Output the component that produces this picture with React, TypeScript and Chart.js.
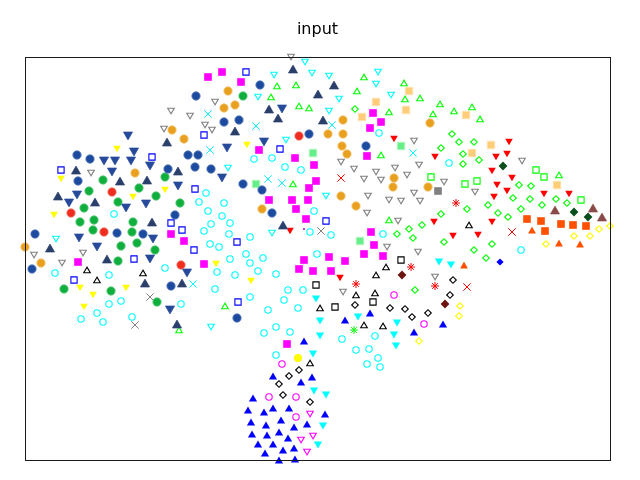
import React, { useEffect, useRef } from "react";
import { Chart, registerables } from "chart.js";

Chart.register(...registerables);

type P = [number, number];

const titleText = "input";

const navyCircles: P[] = [[196,96],[77,155],[90,159],[188,155],[198,155],[195,167],[211,169],[168,169],[78,181],[175,215],[35,234],[117,233],[143,234],[32,269],[171,286],[260,85],[224,122],[239,120],[309,134],[366,146],[243,184],[262,190],[272,213],[237,318]];
const darkUp: P[] = [[167,142],[76,170],[178,171],[120,181],[147,180],[58,196],[95,202],[152,222],[50,248],[107,259],[145,283],[182,283],[177,324],[293,69],[334,85],[318,94],[269,109],[278,118],[323,120],[235,131],[283,225]];
const navyDown: P[] = [[128,136],[134,152],[104,161],[115,161],[131,161],[150,166],[112,172],[178,186],[77,195],[69,203],[126,208],[146,204],[79,238],[97,247],[153,239],[150,259],[187,273],[170,310],[282,109],[264,142],[227,148],[222,178]];
const orangeCircles: P[] = [[172,130],[184,139],[135,173],[25,247],[41,263],[228,91],[235,105],[224,108],[343,120],[328,134],[343,134],[342,146],[347,154],[262,209],[341,196],[356,206],[430,123],[394,178],[393,187],[428,187]];
const greenCircles: P[] = [[165,177],[103,180],[139,188],[89,191],[156,196],[118,202],[180,203],[84,208],[80,222],[94,220],[133,222],[93,230],[132,232],[137,243],[121,246],[155,250],[118,261],[64,289],[111,291],[157,302],[243,96]];
const redCircles: P[] = [[112,192],[71,213],[104,232],[181,265],[299,136]];
const magentaSquares: P[] = [[208,77],[222,72],[241,82],[171,234],[184,241],[78,262],[204,264],[259,150],[295,158],[314,165],[316,181],[309,188],[373,113],[381,122],[370,128],[367,156],[269,200],[292,200],[308,200],[296,209],[306,219],[371,232],[374,245],[364,254],[383,256],[304,260],[329,257],[345,261],[299,269],[313,271],[331,271],[287,344]];
const blueOpenSquares: P[] = [[204,135],[152,157],[61,170],[195,189],[171,223],[182,230],[194,250],[134,259],[74,280],[246,72],[280,149],[237,242],[238,302],[326,221]];
const cyanCircles: P[] = [[206,193],[199,202],[208,211],[114,214],[222,216],[211,224],[204,231],[210,244],[219,247],[165,268],[55,273],[109,275],[217,272],[215,289],[121,301],[109,304],[181,304],[97,313],[81,319],[103,322],[132,317],[254,159],[272,158],[285,167],[301,170],[379,133],[224,203],[230,223],[229,234],[250,237],[246,254],[230,259],[250,263],[263,258],[258,271],[235,275],[276,274],[288,290],[303,290],[284,300],[250,297],[268,310],[298,308],[276,327],[290,332],[264,333],[314,211],[310,232],[331,235],[317,254],[383,234],[342,339],[375,336],[356,350],[369,349],[378,358],[367,364],[380,367],[276,355],[449,163],[521,250]];
const cyanOpenDown: P[] = [[56,239],[211,327],[305,62],[274,75],[312,73],[329,76],[378,72],[376,84],[258,97],[339,99],[329,111],[286,140],[228,168],[391,95],[326,196],[272,233]];
const cyanCrosses: P[] = [[208,114],[210,150],[193,284],[256,126],[332,125],[268,179],[282,183],[413,153]];
const grayOpenDown: P[] = [[215,102],[171,111],[190,116],[205,125],[212,130],[164,129],[91,173],[34,255],[83,253],[62,263],[291,57],[341,162],[354,169],[376,172],[364,179],[381,180],[368,196],[389,200],[367,213],[387,247],[343,292],[414,141],[522,161],[419,165],[395,168],[407,175],[444,182],[475,192],[414,193],[401,201],[420,201],[398,221],[418,252],[435,277]];
const grayCrosses: P[] = [[150,297],[135,325],[321,231]];
const yellowDown: P[] = [[117,149],[61,179],[165,190],[133,197],[54,215],[80,288],[93,295],[126,288],[84,307],[216,264],[247,145],[251,281]];
const limeOpenUp: P[] = [[179,330],[364,77],[277,86],[296,85],[357,91],[271,97],[299,106],[309,108],[381,155],[293,184],[389,112],[225,306],[389,220],[404,83],[420,98],[405,99],[440,104],[433,114],[454,111],[472,107],[480,119],[559,175]];
const limeDiamonds: P[] = [[355,109],[452,134],[459,142],[474,142],[441,148],[463,154],[479,160],[463,164],[519,185],[531,186],[513,198],[530,199],[556,199],[467,209],[488,205],[441,214],[498,213],[508,217],[521,209],[542,205],[567,203],[422,225],[409,229],[397,234],[413,238],[444,242],[492,244],[474,250],[486,258],[415,290]];
const limeOpenSquares: P[] = [[431,177],[536,170],[544,177],[477,181],[465,184],[581,200]];
const paleOrangeSquares: P[] = [[376,102],[362,117],[409,91],[406,110],[466,115],[491,145],[472,153],[557,185]];
const paleGreenSquares: P[] = [[313,153],[256,184],[360,241],[401,146]];
const redDown: P[] = [[290,231],[340,278],[509,142],[394,139],[507,154],[496,157],[435,157],[492,171],[512,178],[497,185],[507,191],[494,197],[544,194],[569,194],[434,222],[492,222],[453,236],[478,235]];
const redStars: P[] = [[356,284],[456,203],[411,267],[435,286]];
const redCrosses: P[] = [[341,178],[512,232],[467,287]];
const blackOpenUp: P[] = [[87,270],[97,280],[143,273],[386,267],[376,275],[356,295],[375,293],[320,308],[364,325],[383,326],[469,225],[310,363]];
const blackOpenSquares: P[] = [[316,285],[335,307],[373,302],[401,260]];
const blackDiamonds: P[] = [[355,305],[453,280],[450,295],[390,308],[405,309],[412,317],[428,313],[299,370],[289,376],[279,384],[283,395],[310,402]];
const blueUp: P[] = [[345,320],[370,313],[304,341],[443,324],[414,332],[273,376],[301,382],[312,377],[253,398],[248,410],[264,412],[273,408],[289,408],[325,414],[251,422],[281,420],[266,425],[294,427],[307,424],[252,434],[267,435],[279,432],[288,438],[258,444],[273,444],[283,450],[294,448],[265,453],[279,460],[295,459]];
const cyanDown: P[] = [[316,299],[320,321],[358,317],[320,336],[439,262],[451,265],[397,323],[394,335],[396,346],[313,354],[314,391],[326,395],[323,426],[318,445]];
const magentaCircles: P[] = [[394,295],[424,324],[282,364],[269,397],[296,397],[296,417]];
const magentaOpenDown: P[] = [[310,414],[313,436],[301,440],[307,452]];
const yellowDiamonds: P[] = [[599,229],[610,226],[574,236],[590,236],[546,244],[460,306],[459,316],[419,341]];
const darkGreenDiamonds: P[] = [[503,166],[574,212],[588,217]];
const darkRedDiamonds: P[] = [[402,275],[445,304]];
const brownUp: P[] = [[555,210],[593,208],[602,217]];
const orangeSquares: P[] = [[527,219],[541,221],[545,231],[561,224],[573,225],[586,226]];
const orangeUp: P[] = [[532,230],[559,243],[580,244],[464,265]];
const blueDiamonds: P[] = [[500,262]];
const graySquares: P[] = [[438,191]];
const greenStars: P[] = [[354,330]];
const yellowCircles: P[] = [[298,358]];
const purpleDots: P[] = [[304,229]];

function triangle(opts: { fill?: string; stroke?: string; edge?: string; down?: boolean; hw: number; hh: number }) {
  const c = document.createElement("canvas");
  c.width = 18;
  c.height = 18;
  const g = c.getContext("2d")!;
  const sign = opts.down ? -1 : 1;
  g.beginPath();
  g.moveTo(9, 9 - sign * opts.hh);
  g.lineTo(9 - opts.hw, 9 + sign * opts.hh);
  g.lineTo(9 + opts.hw, 9 + sign * opts.hh);
  g.closePath();
  if (opts.edge) {
    g.strokeStyle = opts.edge;
    g.lineWidth = 1;
    g.stroke();
  }
  if (opts.fill) {
    g.fillStyle = opts.fill;
    g.fill();
  }
  if (opts.stroke) {
    g.strokeStyle = opts.stroke;
    g.lineWidth = 1.1;
    g.stroke();
  }
  return c;
}

function buildDatasets() {
  const ds = (data: P[], pointStyle: any, pointRadius: number, backgroundColor: string, borderColor: string, borderWidth: number) => ({
    data: data.map(([x, y]) => ({ x, y })),
    pointStyle,
    pointRadius,
    backgroundColor,
    borderColor,
    borderWidth,
    clip: false as const,
  });
  const none = "rgba(0,0,0,0)";
  return [
    ds(cyanCircles, "circle", 3.2, none, "#00FFFF", 1.1),
    ds(navyCircles, "circle", 4.2, "#1C4A9E", "#5F82C0", 0.8),
    ds(darkUp, triangle({ fill: "#2B3F6B", edge: "#6E7E9F", hw: 4.6, hh: 4 }), 9, none, none, 0),
    ds(navyDown, triangle({ fill: "#26499A", edge: "#6C87BF", down: true, hw: 4.6, hh: 4 }), 9, none, none, 0),
    ds(orangeCircles, "circle", 4.2, "#E8A01E", "#F2C678", 0.8),
    ds(greenCircles, "circle", 4.2, "#10AE3C", "#62CB80", 0.8),
    ds(redCircles, "circle", 4.2, "#EE2D1E", "#F47A70", 0.8),
    ds(magentaSquares, "rect", 5.4, "#FF00FF", "#FF00FF", 0),
    ds(blueOpenSquares, "rect", 4.4, none, "#0000FF", 1.1),
    ds(cyanOpenDown, triangle({ stroke: "#00FFFF", down: true, hw: 3.3, hh: 2.8 }), 9, none, none, 0),
    ds(cyanCrosses, "crossRot", 5.2, none, "#00FFFF", 1),
    ds(grayOpenDown, triangle({ stroke: "#808080", down: true, hw: 3.3, hh: 2.8 }), 9, none, none, 0),
    ds(grayCrosses, "crossRot", 5.2, none, "#808080", 1),
    ds(yellowDown, triangle({ fill: "#FFFF00", down: true, hw: 3.8, hh: 3.3 }), 9, none, none, 0),
    ds(limeOpenUp, triangle({ stroke: "#00FF00", hw: 3.3, hh: 2.8 }), 9, none, none, 0),
    ds(limeDiamonds, "rectRot", 3.3, none, "#00FF00", 1.1),
    ds(limeOpenSquares, "rect", 4.4, none, "#00FF00", 1.1),
    ds(paleOrangeSquares, "rect", 5.3, "#FFCC77", "#FFE2B4", 1),
    ds(paleGreenSquares, "rect", 5.3, "#66EE88", "#B2F6C3", 1),
    ds(redDown, triangle({ fill: "#FF0000", down: true, hw: 3.8, hh: 3.3 }), 9, none, none, 0),
    ds(redStars, "star", 4, none, "#FF0000", 1),
    ds(redCrosses, "crossRot", 5.2, none, "#FF0000", 1),
    ds(blackOpenUp, triangle({ stroke: "#000000", hw: 3.3, hh: 2.8 }), 9, none, none, 0),
    ds(blackOpenSquares, "rect", 4.4, none, "#000000", 1.1),
    ds(blackDiamonds, "rectRot", 3.3, none, "#000000", 1.1),
    ds(blueUp, triangle({ fill: "#0000FF", hw: 4.1, hh: 3.6 }), 9, none, none, 0),
    ds(cyanDown, triangle({ fill: "#00FFFF", down: true, hw: 4.1, hh: 3.6 }), 9, none, none, 0),
    ds(magentaCircles, "circle", 3.2, none, "#FF00FF", 1.1),
    ds(magentaOpenDown, triangle({ stroke: "#FF00FF", down: true, hw: 3.3, hh: 2.8 }), 9, none, none, 0),
    ds(yellowDiamonds, "rectRot", 3.3, none, "#FFFF00", 1.1),
    ds(darkGreenDiamonds, "rectRot", 4.4, "#0B4F1F", "#0B4F1F", 0),
    ds(darkRedDiamonds, "rectRot", 4.4, "#6B1410", "#6B1410", 0),
    ds(brownUp, triangle({ fill: "#8B4A4A", edge: "#B99090", hw: 4.6, hh: 4 }), 9, none, none, 0),
    ds(orangeSquares, "rect", 5.4, "#FF5000", "#FF5000", 0),
    ds(orangeUp, triangle({ fill: "#FF5000", hw: 3.9, hh: 3.4 }), 9, none, none, 0),
    ds(blueDiamonds, "rectRot", 3.6, "#0000FF", "#0000FF", 0),
    ds(graySquares, "rect", 5.4, "#808080", "#808080", 0),
    ds(greenStars, "star", 4, none, "#00FF00", 1),
    ds(yellowCircles, "circle", 4, "#FFFF00", "#FFFF00", 0),
    ds(purpleDots, "circle", 1, "#AA00DD", "#AA00DD", 0),
  ];
}

const frame = {
  id: "frame",
  afterDatasetsDraw(chart: any) {
    const { ctx, chartArea: a } = chart;
    ctx.save();
    ctx.strokeStyle = "#1a1a1a";
    ctx.lineWidth = 1;
    ctx.strokeRect(a.left + 0.5, a.top + 0.5, a.right - a.left, a.bottom - a.top);
    ctx.restore();
  },
};

export default function App() {
  const ref = useRef<HTMLCanvasElement | null>(null);
  useEffect(() => {
    document.body.style.margin = "0";
    const chart = new Chart(ref.current!, {
      type: "scatter",
      data: { datasets: buildDatasets() as any },
      plugins: [frame],
      options: {
        responsive: false,
        animation: false,
        layout: { padding: { left: 25, right: 30, top: 0, bottom: 20 } },
        plugins: {
          legend: { display: false },
          tooltip: { enabled: false },
          title: {
            display: true,
            text: titleText,
            fullSize: false,
            color: "#000000",
            font: { family: "DejaVu Sans", size: 16, weight: "normal", lineHeight: 1.2 },
            padding: { top: 20, bottom: 17.8 },
          },
        },
        scales: {
          x: { type: "linear", min: 25, max: 610, display: false },
          y: { type: "linear", min: 57, max: 460, reverse: true, display: false },
        },
      },
    });
    return () => chart.destroy();
  }, []);
  return (
    <div style={{ position: "absolute", left: 0, top: 0, width: 640, height: 480 }}>
      <canvas ref={ref} width={640} height={480} style={{ display: "block" }} />
    </div>
  );
}
